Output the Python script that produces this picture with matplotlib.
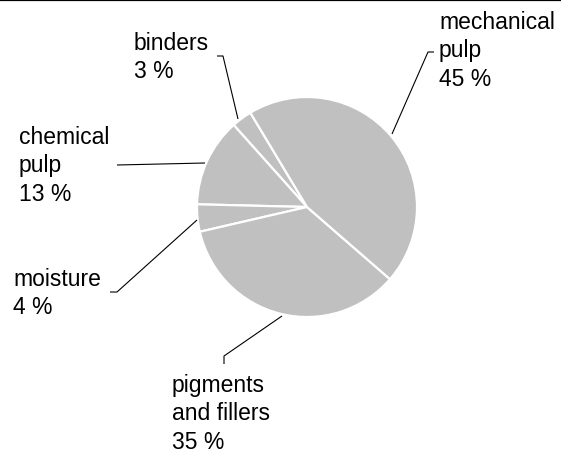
import matplotlib
matplotlib.use("Agg")
import matplotlib.pyplot as plt

# ---- data ----
categories = ["binders", "chemical\npulp", "moisture", "pigments\nand fillers", "mechanical\npulp"]
values = [3, 13, 4, 35, 45]
value_labels = ["3 %", "13 %", "4 %", "35 %", "45 %"]

W, H = 561, 452
fig = plt.figure(figsize=(W / 100, H / 100), dpi=100)
ax = fig.add_axes([0, 0, 1, 1])
ax.set_xlim(0, W)
ax.set_ylim(0, H)
ax.set_aspect("equal")
ax.axis("off")

def Y(y):
    return H - y

cx, cy, r = 307, 208, 110
ax.pie(values, startangle=121, counterclock=True, center=(cx, Y(cy)), radius=r,
       colors=["#c0c0c0"] * len(values),
       wedgeprops=dict(edgecolor="white", linewidth=1.6), frame=False)
ax.set_xlim(0, W)
ax.set_ylim(0, H)

# label layout: (x, first baseline y) and leader polyline (image pixels)
layout = {
    "binders": ((134, 50), [(238, 120), (223, 57), (217, 57)]),
    "chemical\npulp": ((19, 144), [(205, 164), (117, 166)]),
    "moisture": ((13, 286), [(197, 221), (117, 293), (110, 293)]),
    "pigments\nand fillers": ((172, 392), [(282, 317), (224, 357), (224, 365)]),
    "mechanical\npulp": ((439, 29), [(392, 135), (428, 53), (434, 53)]),
}
fs = 16.5
lh = 28.3
for cat, vl in zip(categories, value_labels):
    (tx, ty), pts = layout[cat]
    lines = cat.split("\n") + [vl]
    for i, ln in enumerate(lines):
        ax.text(tx, Y(ty + i * lh), ln, ha="left", va="baseline",
                fontsize=fs, family="Liberation Sans", color="black")
    xs = [p[0] for p in pts]
    ys = [Y(p[1]) for p in pts]
    ax.plot(xs, ys, color="black", lw=0.8, solid_capstyle="butt")

# top border
ax.plot([0, W], [Y(1), Y(1)], color="black", lw=1.6, solid_capstyle="butt")

fig.savefig("out.png", dpi=100)
